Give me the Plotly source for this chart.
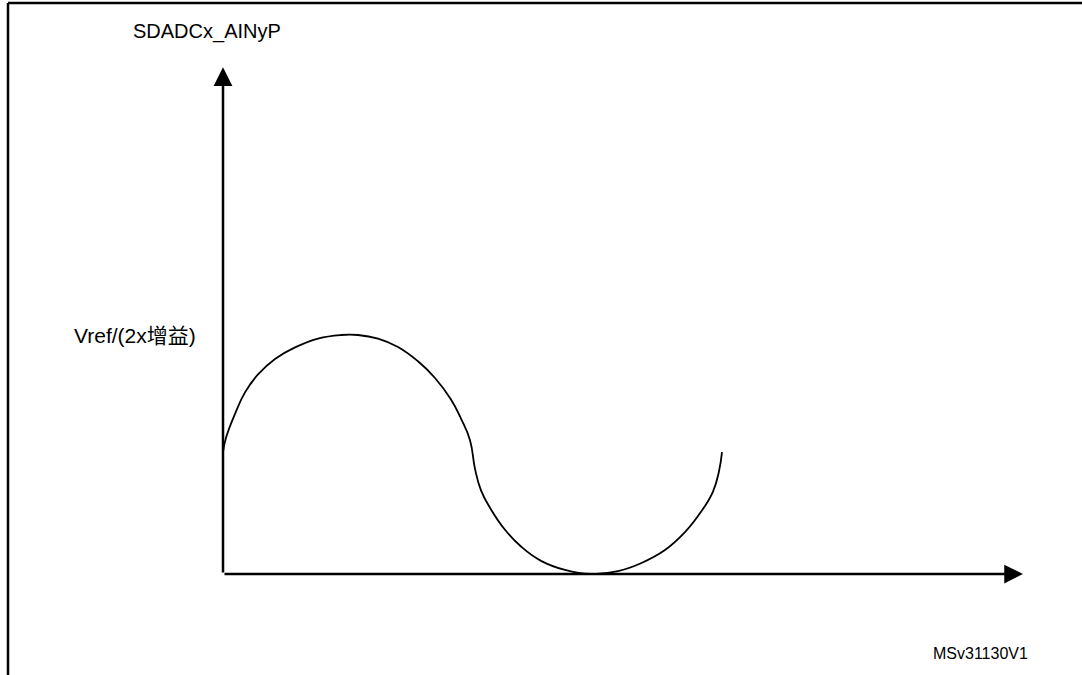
import plotly.graph_objects as go

# signal: time (a.u.) vs level (units of Vref/(2x gain))
t = [0.00, 0.03, 0.12, 0.22, 0.35, 0.52, 0.72, 0.95, 1.18, 1.35, 1.55, 1.75,
     1.95, 2.12, 2.28, 2.38, 2.47, 2.52, 2.58, 2.68, 2.82, 2.98, 3.18, 3.42,
     3.68, 3.95, 4.18, 4.42, 4.62, 4.78, 4.90, 4.96, 4.99]
v = [0.51, 0.57, 0.67, 0.76, 0.835, 0.90, 0.948, 0.985, 1.00, 1.00, 0.985,
     0.95, 0.89, 0.82, 0.73, 0.65, 0.56, 0.44, 0.35, 0.27, 0.185, 0.115,
     0.055, 0.017, 0.00, 0.012, 0.045, 0.10, 0.175, 0.26, 0.345, 0.43, 0.51]

x_axis_end = 8.0
y_axis_end = 2.12
vref_level = 1.0

y_title = "SDADCx_AINyP"
vref_label = "Vref/(2x增益)"
fig_id = "MSv31130V1"

FONT = "Liberation Sans, Arial, Noto Sans CJK SC, sans-serif"

fig = go.Figure()

fig.add_trace(go.Scatter(
    x=t, y=v,
    mode='lines',
    line=dict(color='black', width=1.8, shape='spline', smoothing=1.3),
    showlegend=False,
    hoverinfo='skip'
))

# axes drawn as arrows from the origin
fig.add_annotation(x=x_axis_end, y=0, ax=0, ay=0, xref='x', yref='y',
                   axref='x', ayref='y', text='', showarrow=True,
                   arrowhead=2, arrowwidth=2.5, arrowsize=1.5,
                   arrowcolor='black', standoff=0)
fig.add_annotation(x=0, y=y_axis_end, ax=0, ay=0, xref='x', yref='y',
                   axref='x', ayref='y', text='', showarrow=True,
                   arrowhead=2, arrowwidth=2.5, arrowsize=1.5,
                   arrowcolor='black', standoff=0)

# labels
fig.add_annotation(x=-0.92, y=2.27, xref='x', yref='y', text=y_title,
                   showarrow=False, xanchor='left', yanchor='middle',
                   font=dict(family=FONT, size=20, color='black'))
fig.add_annotation(x=-0.25, y=vref_level, xref='x', yref='y', text=vref_label,
                   showarrow=False, xanchor='right', yanchor='middle',
                   font=dict(family=FONT, size=21, color='black'))
fig.add_annotation(x=1030 / 1082, y=1 - 653 / 675, xref='paper', yref='paper',
                   text=fig_id, showarrow=False, xanchor='right',
                   yanchor='middle',
                   font=dict(family=FONT, size=16, color='black'))

# frame (top and left edges)
fig.add_shape(type='line', xref='paper', yref='paper',
              x0=8 / 1082, x1=1, y0=1 - 3 / 675, y1=1 - 3 / 675,
              line=dict(color='black', width=2.5))
fig.add_shape(type='line', xref='paper', yref='paper',
              x0=8 / 1082, x1=8 / 1082, y0=0, y1=1 - 3 / 675,
              line=dict(color='black', width=2.5))

fig.update_layout(
    width=1082, height=675,
    margin=dict(l=0, r=0, t=0, b=0),
    paper_bgcolor='white', plot_bgcolor='white',
    xaxis=dict(range=[-2.23, 8.59], visible=False, fixedrange=True),
    yaxis=dict(range=[-0.4226, 2.4017], visible=False, fixedrange=True),
)

# drop the default page margin so the figure sits at the window's corner
fig.write_html("out.html",
               config={'displayModeBar': False},
               post_script="document.body.style.margin='0';")
